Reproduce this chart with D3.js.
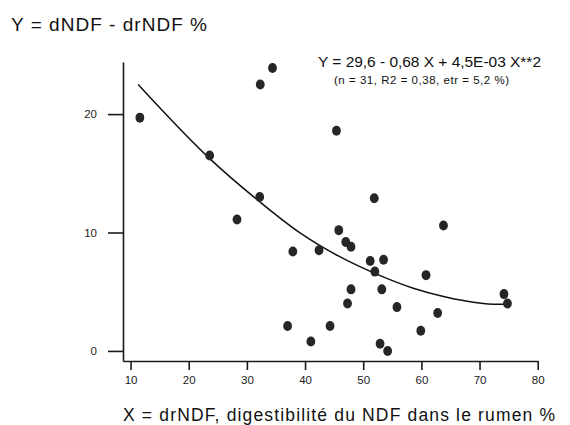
<!DOCTYPE html>
<html>
<head>
<meta charset="utf-8">
<script src="https://cdn.jsdelivr.net/npm/d3@7"></script>
<style>
  html, body { margin: 0; padding: 0; background: #fff; }
  svg { display: block; }
  svg text { font-family: 'Liberation Sans', Arimo, Arial, Helvetica, sans-serif !important; }
</style>
</head>
<body>
<svg id="chart" width="570" height="425"></svg>
<script>
// ---- data ----
const drNDF = [11.6, 23.6, 28.3, 32.2, 32.3, 34.4, 37.0, 37.9, 41.0, 42.4, 44.3,
               45.4, 45.8, 47.0, 47.3, 47.9, 47.9, 51.2, 51.9, 52.0, 52.9, 53.2,
               53.5, 54.2, 55.8, 59.9, 60.8, 62.8, 63.8, 74.2, 74.8];
const dDiff = [19.7, 16.5, 11.1, 13.0, 22.5, 23.9, 2.1, 8.4, 0.8, 8.5, 2.1,
               18.6, 10.2, 9.2, 4.0, 8.8, 5.2, 7.6, 12.9, 6.7, 0.6, 5.2,
               7.7, 0.0, 3.7, 1.7, 6.4, 3.2, 10.6, 4.8, 4.0];
// fitted curve as drawn in the reference
const curveX = [11.3, 23.7, 32.2, 39.2, 45.8, 52.0, 58.6, 63.8, 67.2, 72.4, 74.8];
const curveY = [22.5, 16.2, 12.6, 9.95, 8.0, 6.55, 5.3, 4.6, 4.25, 3.95, 3.95];
const xTicks = [10, 20, 30, 40, 50, 60, 70, 80];
const yTicks = [0, 10, 20];
const yTitle = "Y = dNDF - drNDF  %";
const xTitle = "X = drNDF, digestibilité du NDF dans le rumen %";
const eqText = "Y = 29,6 - 0,68 X + 4,5E-03 X**2";
const statText = "(n = 31, R2 = 0,38, etr = 5,2 %)";

const FONT = "'Liberation Sans', Arimo, Arial, Helvetica, sans-serif";
const svg = d3.select("#chart");
const x = d3.scaleLinear().domain([8.7, 80]).range([123, 537.7]);
const y = d3.scaleLinear().domain([-0.85, 24.4]).range([361, 62]);

// axes
const gx = svg.append("g").attr("transform", "translate(0,361)")
  .call(d3.axisBottom(x).tickValues(xTicks).tickSize(9).tickSizeOuter(0).tickPadding(6));
const gy = svg.append("g").attr("transform", "translate(123,0)")
  .call(d3.axisLeft(y).tickValues(yTicks).tickSize(15).tickSizeOuter(0).tickPadding(11));
[gx, gy].forEach(g => {
  g.attr("font-family", FONT).attr("font-size", 11.5);
  g.selectAll("path.domain").attr("stroke", "#1a1a1a").attr("stroke-width", 1.6);
  g.selectAll(".tick line").attr("stroke", "#1a1a1a").attr("stroke-width", 1.6);
  g.selectAll(".tick text").attr("fill", "#222").attr("font-family", FONT).attr("font-size", 11.5);
});

// fitted curve
const line = d3.line().x((d, i) => x(curveX[i])).y((d, i) => y(curveY[i])).curve(d3.curveMonotoneX);
svg.append("path").datum(curveX).attr("d", line)
  .attr("fill", "none").attr("stroke", "#111").attr("stroke-width", 1.5);

// points
svg.append("g").selectAll("ellipse").data(drNDF).join("ellipse")
  .attr("cx", (d) => x(d)).attr("cy", (d, i) => y(dDiff[i]))
  .attr("rx", 4.4).attr("ry", 5).attr("fill", "#262626");

// texts
function label(t, px, py, size, len) {
  svg.append("text").attr("x", px).attr("y", py).text(t)
    .attr("font-family", FONT).attr("font-size", size).attr("fill", "#111")
    .attr("textLength", len).attr("lengthAdjust", "spacing");
}
label(yTitle, 11, 31, 19, 196);
label(eqText, 318, 67, 15.5, 223);
label(statText, 334, 84, 11.5, 175);
label(xTitle, 123, 421, 17.5, 432);
</script>
</body>
</html>
